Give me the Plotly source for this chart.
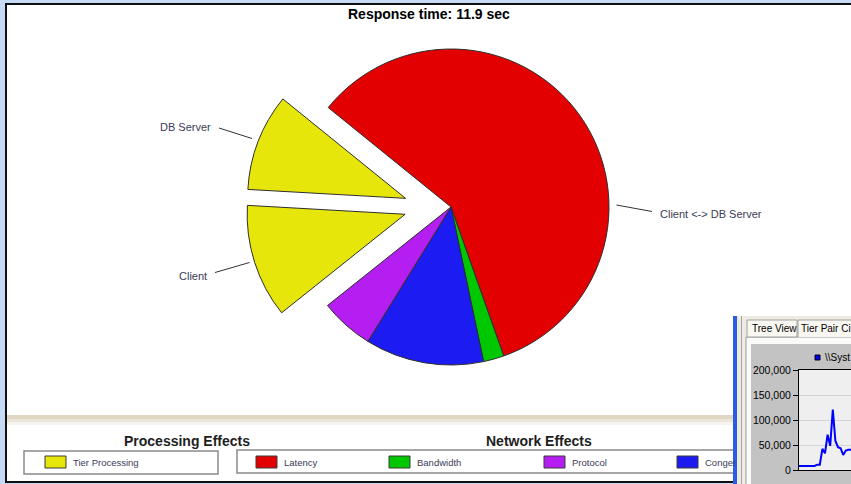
import plotly.graph_objects as go

W, H = 851, 484

# ---- data -------------------------------------------------------------
# Pie slices in drawing order (clockwise, starting at the latency slice)
slice_names = ["Client <-> DB Server", "Bandwidth", "Congestion", "Protocol", "Client", "DB Server"]
slice_seconds = [6.98, 0.25, 1.44, 0.65, 1.38, 1.18]
slice_effects = ["Latency", "Bandwidth", "Congestion", "Protocol", "Tier Processing", "Tier Processing"]
response_time_sec = 11.9

processing_effects = ["Tier Processing"]
network_effects = ["Latency", "Bandwidth", "Protocol", "Congestion"]
effect_colors = {
    "Tier Processing": "#e6e60a",
    "Latency": "#e30000",
    "Bandwidth": "#00c800",
    "Protocol": "#b41ef0",
    "Congestion": "#1c1cf2",
}

# Side window: performance counter trace (window is only partly on screen)
counter_t = [0, 6, 7, 8, 9, 10, 11, 12, 13, 14, 15, 16, 17, 18, 19, 20]
counter_v = [8000, 8000, 10700, 10500, 42300, 33500, 70500, 48300, 120800,
             58000, 45600, 43600, 30200, 38900, 40300, 40300]
counter_ticks = [0, 50000, 100000, 150000, 200000]
tab_names = ["Tree View", "Tier Pair Ci"]
counter_name = "\\\\Syst"


# ---- helpers ----------------------------------------------------------
def px(x):
    return min(max(x, 0), W) / W


def py(y):
    return 1 - min(max(y, 0), H) / H


def rect(x0, y0, x1, y1, fill, line=None, lw=0, layer="below"):
    return dict(type="rect", xref="paper", yref="paper",
                x0=px(x0), x1=px(x1), y0=py(y1), y1=py(y0),
                fillcolor=fill, line=dict(color=line or fill, width=lw), layer=layer)


def seg(x0, y0, x1, y1, color, lw=1, layer="above"):
    return dict(type="line", xref="paper", yref="paper",
                x0=px(x0), x1=px(x1), y0=py(y0), y1=py(y1),
                line=dict(color=color, width=lw), layer=layer)


FONT = "Liberation Sans, Arial, sans-serif"
LABEL_COLOR = "#3b3b58"
OUTLINE = "#2e2e2e"

fig = go.Figure()

# ---- pie --------------------------------------------------------------
r = 158.0
cx, cy = 451.0, 207.0
group_shift = 23.0          # tier-processing slices are shifted left as a group
slice_gap = 24.0            # ... and then pulled apart from each other
pull = slice_gap / r

colors = [effect_colors[e] for e in slice_effects]
is_tier = [e == "Tier Processing" for e in slice_effects]
clear = "rgba(0,0,0,0)"

dom_a = dict(x=[px(cx - r), px(cx + r)], y=[py(cy + r), py(cy - r)])
fig.add_trace(go.Pie(
    labels=slice_names, values=slice_seconds, sort=False, direction="clockwise",
    rotation=-51, textinfo="none", hoverinfo="label+value",
    marker=dict(colors=[clear if t else c for c, t in zip(colors, is_tier)],
                line=dict(color=OUTLINE, width=[0 if t else 1 for t in is_tier])),
    domain=dom_a, showlegend=False,
))

half_b = r * (1 + pull)
cxb = cx - group_shift
dom_b = dict(x=[px(cxb - half_b), px(cxb + half_b)], y=[py(cy + half_b), py(cy - half_b)])
fig.add_trace(go.Pie(
    labels=slice_names, values=slice_seconds, sort=False, direction="clockwise",
    rotation=-51, textinfo="none", hoverinfo="label+value",
    pull=[pull if t else 0 for t in is_tier],
    marker=dict(colors=[c if t else clear for c, t in zip(colors, is_tier)],
                line=dict(color=OUTLINE, width=[1 if t else 0 for t in is_tier])),
    domain=dom_b, showlegend=False,
))

# ---- performance counter chart ---------------------------------------
fig.add_trace(go.Scatter(
    x=counter_t, y=counter_v, mode="lines", xaxis="x", yaxis="y",
    line=dict(color="#0000ff", width=2), showlegend=False, hoverinfo="y",
))

shapes = []
ann = []

# window background and frame edges
shapes.append(rect(6, 4, W, 482, "white"))
shapes.append(seg(5, 4, W, 4, "#101010", 2, "below"))
shapes.append(seg(6, 4, 6, 482, "#101010", 2, "below"))
shapes.append(seg(5, 482, W, 482, "#101010", 2, "below"))
# separator band above the legend panel
shapes.append(rect(7, 415, W, 419, "#e0d8c4"))
shapes.append(rect(7, 419, W, 422, "#ebe6da"))
shapes.append(rect(7, 422, W, 425, "#f6f4ee"))

# legend boxes
shapes.append(rect(24, 451, 218, 474, "white", "#8a8a8a", 1.5))
shapes.append(rect(237, 450, 780, 473, "white", "#8a8a8a", 1.5))

ann.append(dict(x=px(122), y=py(441), text="<b>Processing Effects</b>",
                font=dict(family=FONT, size=14, color="#1e1e1e")))
ann.append(dict(x=px(539), y=py(441), text="<b>Network Effects</b>",
                font=dict(family=FONT, size=14, color="#1e1e1e")))

legend_x = {"Tier Processing": 45, "Latency": 256, "Bandwidth": 389,
            "Protocol": 544, "Congestion": 677}
for name in processing_effects + network_effects:
    x0 = legend_x[name]
    shapes.append(rect(x0, 456, x0 + 21, 468, effect_colors[name], "#3a3a3a", 1))
    a = dict(x=px(x0 + 26), y=py(462.5), text=name, xanchor="left",
             font=dict(family=FONT, size=9.5, color=LABEL_COLOR))
    if name == "Congestion":
        a.update(width=30, align="left")
    ann.append(a)

# side window (counter view)
shapes.append(rect(733, 316, 737, H, "#2a5ce4"))
shapes.append(rect(737, 316, W, H, "#eeece2"))
shapes.append(seg(741.5, 316, 741.5, H, "#a4a4a4", 1, "below"))
shapes.append(rect(746, 337, W, H, "#fbfbfa"))
shapes.append(seg(746, 337, W, 337, "#9a9a9a", 1, "below"))
shapes.append(seg(746, 337, 746, H, "#9a9a9a", 1, "below"))
shapes.append(rect(747, 320, 797, 337, "#f8f7f2", "#a0a0a0", 1))
shapes.append(rect(798, 320, W, 337, "#f8f7f2"))
shapes.append(seg(798, 320, W, 320, "#a0a0a0", 1, "below"))
shapes.append(seg(798, 320, 798, 337, "#a0a0a0", 1, "below"))
shapes.append(rect(751, 344, W, H, "#c3c3c3"))
shapes.append(rect(799, 370, W, 470, "#efefef"))
shapes.append(rect(815, 355, 820, 360, "#0000ff", "#000000", 1))
ann.append(dict(x=px(749.5), y=py(328.5), text=tab_names[0], xanchor="left",
                font=dict(family=FONT, size=10, color="#000000")))
ann.append(dict(x=px(799), y=py(328.5), text=tab_names[1], xanchor="left",
                font=dict(family=FONT, size=10, color="#000000")))
ann.append(dict(x=px(823), y=py(357.5), text=counter_name, xanchor="left",
                font=dict(family=FONT, size=10, color="#000000")))

# title
ann.append(dict(x=px(429), y=py(14), text=f"<b>Response time: {response_time_sec} sec</b>",
                font=dict(family=FONT, size=14, color="#000000")))

# slice labels with leader lines
label_specs = [
    ("DB Server", 213, 126.5, "right", (219, 128, 252, 138.5)),
    ("Client", 209, 276, "right", (215, 272.5, 249.5, 262.5)),
    ("Client <-> DB Server", 658, 214, "left", (616.5, 205, 652, 211.5)),
]
for text, tx, ty, anchor, (lx0, ly0, lx1, ly1) in label_specs:
    ann.append(dict(x=px(tx), y=py(ty), text=text, xanchor=anchor,
                    font=dict(family=FONT, size=11, color=LABEL_COLOR)))
    shapes.append(seg(lx0, ly0, lx1, ly1, "#333333", 1))

for a in ann:
    a.setdefault("xref", "paper")
    a.setdefault("yref", "paper")
    a.setdefault("showarrow", False)
    a.setdefault("yanchor", "middle")

fig.update_layout(
    width=W, height=H,
    margin=dict(l=0, r=0, t=0, b=0, pad=0, autoexpand=False),
    paper_bgcolor="#c7daf5",
    plot_bgcolor="rgba(0,0,0,0)",
    shapes=shapes,
    annotations=ann,
    showlegend=False,
    xaxis=dict(domain=[px(799), 1], range=[0, 20], showgrid=False, zeroline=False,
               showticklabels=False, showline=True, linecolor="#000000", linewidth=1,
               mirror=True, ticks="", automargin=False),
    yaxis=dict(domain=[py(470), py(370)], range=[0, 200000], tickvals=counter_ticks,
               tickformat=",", showgrid=True, gridcolor="#d4d4d4", zeroline=False,
               showline=True, linecolor="#000000", linewidth=1, mirror=True,
               ticks="outside", ticklen=5, tickcolor="#000000", automargin=False,
               tickfont=dict(family=FONT, size=10.5, color="#000000")),
)

fig.write_html("out.html", config={"displayModeBar": False})
